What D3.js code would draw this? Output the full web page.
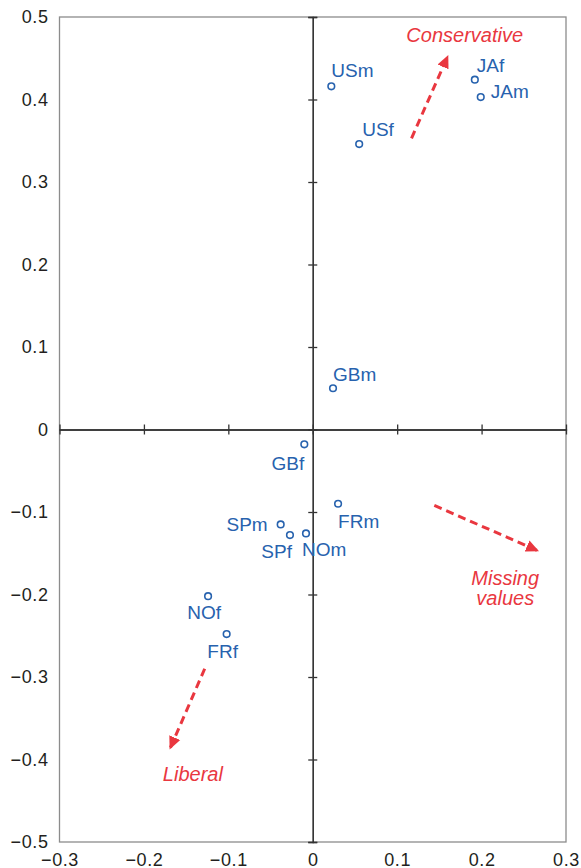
<!DOCTYPE html>
<html>
<head>
<meta charset="utf-8">
<script src="https://cdn.jsdelivr.net/npm/d3@7"></script>
<style>
	body { margin: 0; background: #fff; }
	text { font-family: "Liberation Sans", Arial, sans-serif; }
</style>
</head>
<body>
<script>
//the points: country + sex, and their two coordinates
let names = ["USm", "USf", "JAf", "JAm", "GBm", "GBf", "FRm", "SPm", "SPf", "NOm", "NOf", "FRf"];
let xVals = [0.022, 0.055, 0.192, 0.199, 0.024, -0.010, 0.030, -0.038, -0.027, -0.008, -0.124, -0.102];
let yVals = [0.416, 0.346, 0.424, 0.403, 0.050, -0.018, -0.090, -0.115, -0.128, -0.126, -0.202, -0.248];

//tick values for both axes
let xTicks = [-0.3, -0.2, -0.1, 0, 0.1, 0.2, 0.3];
let yTicks = [-0.5, -0.4, -0.3, -0.2, -0.1, 0, 0.1, 0.2, 0.3, 0.4, 0.5];

//direction arrows, from -> to in data units
let arrowNames = ["Conservative", "Liberal", "Missing values"];
let arrowFrom = [[0.117, 0.353], [-0.128, -0.290], [0.144, -0.092]];
let arrowTo = [[0.161, 0.455], [-0.170, -0.389], [0.269, -0.148]];
let arrowLabelAt = [[0.180, 0.470], [-0.142, -0.426], [0.228, -0.188]];

//where each point label sits relative to its point (layout only)
let labelPlace = {
	USm: { dx: 0, dy: -9, anchor: "start" },
	USf: { dx: 3, dy: -8, anchor: "start" },
	JAf: { dx: 2, dy: -8, anchor: "start" },
	JAm: { dx: 10, dy: 1, anchor: "start" },
	GBm: { dx: 0, dy: -7, anchor: "start" },
	GBf: { dx: 0, dy: 26, anchor: "end" },
	FRm: { dx: 0, dy: 24, anchor: "start" },
	SPm: { dx: -13, dy: 7, anchor: "end" },
	SPf: { dx: 2, dy: 23, anchor: "end" },
	NOm: { dx: -4, dy: 23, anchor: "start" },
	NOf: { dx: -4, dy: 23, anchor: "middle" },
	FRf: { dx: -4, dy: 24, anchor: "middle" }
};

let svg = d3.select("body").append("svg")
	.attr("width", 581)
	.attr("height", 868);

let width = +svg.attr("width");
let height = +svg.attr("height");

let margin = { top: 17, right: 15, bottom: 26, left: 59.5 };
let innerWidth = width - margin.left - margin.right;
let innerHeight = height - margin.top - margin.bottom;

let blue = "#2762ae";
let red = "#e9373f";

let scaleX = d3.scaleLinear().domain([-0.3, 0.3]).range([0, innerWidth]);
let scaleY = d3.scaleLinear().domain([-0.5, 0.5]).range([innerHeight, 0]);

let fmt = d => d === 0 ? "0" : d3.format(".1f")(d);

let g = svg.append("g")
	.attr("transform", `translate(${margin.left}, ${margin.top})`);

//grey frame round the plot
g.append("rect")
	.attr("width", innerWidth)
	.attr("height", innerHeight)
	.attr("fill", "none")
	.attr("stroke", "#8c8c8c")
	.attr("stroke-width", 1.3);

//tick labels on the frame, no tick marks
let yG = g.append("g")
	.call(d3.axisLeft(scaleY).tickValues(yTicks).tickSize(0).tickPadding(11).tickFormat(fmt));
let xG = g.append("g")
	.attr("transform", `translate(0, ${innerHeight})`)
	.call(d3.axisBottom(scaleX).tickValues(xTicks).tickSize(0).tickPadding(10).tickFormat(fmt));

[yG, xG].forEach(a => {
	a.select(".domain").remove();
	a.selectAll("text")
		.attr("font-size", 18)
		.attr("letter-spacing", 0.6)
		.attr("fill", "#231f20")
		.attr("font-family", "'Liberation Sans', Arial, sans-serif");
});
xG.selectAll("text").attr("dy", "0.75em");

//the two zero axes through the middle, ticks on both sides
let midX = g.append("g").attr("transform", `translate(${scaleX(0)}, 0)`);
midX.append("g").call(d3.axisLeft(scaleY).tickValues(yTicks).tickSize(4.5).tickFormat(""));
midX.append("g").call(d3.axisRight(scaleY).tickValues(yTicks).tickSize(4.5).tickFormat(""));

let midY = g.append("g").attr("transform", `translate(0, ${scaleY(0)})`);
midY.append("g").call(d3.axisTop(scaleX).tickValues(xTicks.slice(1, -1)).tickSize(5).tickFormat(""));
midY.append("g").call(d3.axisBottom(scaleX).tickValues(xTicks.slice(1, -1)).tickSize(5).tickFormat(""));

[midX, midY].forEach(a => {
	a.selectAll("path.domain").attr("stroke", "#333").attr("stroke-width", 1.3);
	a.selectAll("line").attr("stroke", "#333").attr("stroke-width", 1.3);
});

//arrowhead marker
svg.append("defs").append("marker")
	.attr("id", "head")
	.attr("viewBox", "0 0 12 12")
	.attr("refX", 11)
	.attr("refY", 6)
	.attr("markerUnits", "userSpaceOnUse")
	.attr("markerWidth", 13)
	.attr("markerHeight", 13)
	.attr("orient", "auto")
	.append("path")
	.attr("d", "M0,0.5 L12,6 L0,11.5 Z")
	.attr("fill", red);

arrowNames.forEach((name, i) => {
	let x1 = scaleX(arrowFrom[i][0]), y1 = scaleY(arrowFrom[i][1]);
	let x2 = scaleX(arrowTo[i][0]), y2 = scaleY(arrowTo[i][1]);
	//stop the dashes a bit short so the head covers the end
	let len = Math.hypot(x2 - x1, y2 - y1);
	let ex = x2 - (x2 - x1) / len * 2, ey = y2 - (y2 - y1) / len * 2;
	g.append("line")
		.attr("x1", x1).attr("y1", y1)
		.attr("x2", ex).attr("y2", ey)
		.attr("stroke", red)
		.attr("stroke-width", 3)
		.attr("stroke-dasharray", "8,5")
		.attr("marker-end", "url(#head)");

	let t = g.append("text")
		.attr("x", scaleX(arrowLabelAt[i][0]))
		.attr("y", scaleY(arrowLabelAt[i][1]))
		.attr("text-anchor", "middle")
		.attr("font-size", 20)
		.attr("font-style", "italic")
		.attr("fill", red);
	name.split(" ").forEach((w, k) => {
		t.append("tspan")
			.attr("x", scaleX(arrowLabelAt[i][0]))
			.attr("dy", k === 0 ? 0 : 20.5)
			.text(w);
	});
});

//points and their labels
let data = names.map((n, i) => ({ name: n, x: xVals[i], y: yVals[i] }));

g.selectAll("circle.pt")
	.data(data)
	.enter().append("circle")
		.attr("class", "pt")
		.attr("cx", d => scaleX(d.x))
		.attr("cy", d => scaleY(d.y))
		.attr("r", 3.3)
		.attr("fill", "#fff")
		.attr("stroke", blue)
		.attr("stroke-width", 1.6);

g.selectAll("text.lbl")
	.data(data)
	.enter().append("text")
		.attr("class", "lbl")
		.attr("x", d => scaleX(d.x) + labelPlace[d.name].dx)
		.attr("y", d => scaleY(d.y) + labelPlace[d.name].dy)
		.attr("text-anchor", d => labelPlace[d.name].anchor)
		.attr("font-size", 19)
		.attr("fill", blue)
		.text(d => d.name);
</script>
</body>
</html>
